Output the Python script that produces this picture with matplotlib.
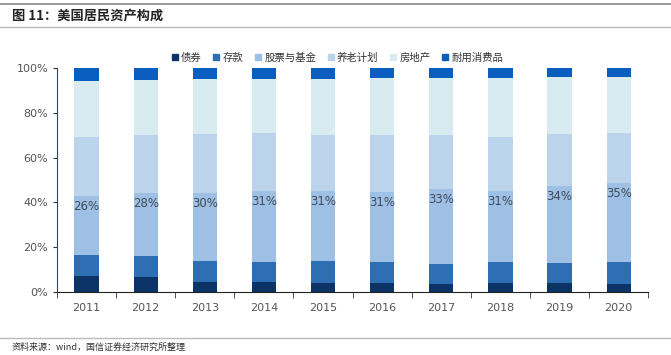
import matplotlib
matplotlib.use('Agg')
import matplotlib.pyplot as plt
from matplotlib.lines import Line2D
import numpy as np

plt.rcParams['font.family'] = ['Noto Sans CJK SC', 'DejaVu Sans']

# ─── 数据 ────────────────────────────────────────────────────────────────
years     = ['2011', '2012', '2013', '2014', '2015', '2016', '2017', '2018', '2019', '2020']
bonds     = [7.0, 6.5, 4.6, 4.6, 4.2, 4.0, 3.7, 4.2, 4.2, 3.4]
deposits  = [9.5, 9.6, 9.2, 8.9, 9.6, 9.5, 8.9, 9.3, 8.7, 9.8]
stocks    = [26.3, 28.2, 30.4, 31.4, 31.1, 31.3, 33.2, 31.4, 34.3, 35.4]
pension   = [26.4, 25.9, 26.5, 26.1, 25.3, 25.1, 24.4, 24.1, 23.3, 22.5]
estate    = [25.1, 24.4, 24.4, 24.2, 25.0, 25.5, 25.3, 26.5, 25.5, 24.9]
durables  = [5.7, 5.4, 4.9, 4.8, 4.8, 4.6, 4.5, 4.5, 4.0, 4.0]

names  = ['债券', '存款', '股票与基金', '养老计划', '房地产', '耐用消费品']
series = [bonds, deposits, stocks, pension, estate, durables]
colors = ['#0B3366', '#2E6FB4', '#9DC0E4', '#BCD3EC', '#D8EBF0', '#0A5EC0']

fig = plt.figure(figsize=(6.71, 3.55), dpi=100)
ax = fig.add_axes([0.085, 0.1775, 0.881, 0.631])

x = np.arange(len(years))
bottom = np.zeros(len(years))
for vals, name, c in zip(series, names, colors):
    ax.bar(x, vals, width=0.41, bottom=bottom, color=c, label=name, zorder=3)
    bottom += np.array(vals)

# 股票与基金 labels
stock_top = np.array(bonds) + np.array(deposits) + np.array(stocks)
for xi, top, v in zip(x, stock_top, stocks):
    ax.text(xi, top - 1.8, f'{v:.0f}%', ha='center', va='top',
            fontsize=8.5, color='#404B5A', family='DejaVu Sans', zorder=4)

ax.set_xlim(-0.5, len(years) - 0.5)
ax.set_ylim(0, 100)
ax.set_yticks(np.arange(0, 101, 20))
ax.set_yticklabels([f'{t}%' for t in range(0, 101, 20)], family='DejaVu Sans')
ax.set_xticks(x)
ax.set_xticklabels(years, family='DejaVu Sans')
ax.set_xticks(np.arange(-0.5, len(years)), minor=True)
ax.tick_params(axis='x', which='major', length=0, pad=8, labelsize=8, labelcolor='#555555')
ax.tick_params(axis='x', which='minor', length=4, direction='out', color='#333333')
ax.tick_params(axis='y', length=3, direction='out', labelsize=8, labelcolor='#555555',
               color='#333333')
for s in ['top', 'right']:
    ax.spines[s].set_visible(False)
ax.spines['left'].set_color('#33475B')
ax.spines['bottom'].set_color('#222222')

handles = [Line2D([0], [0], marker='s', ls='', color=c, markersize=5) for c in colors]
fig.legend(handles, names, loc='center', bbox_to_anchor=(0.502, 0.838), ncol=6,
           frameon=False, fontsize=7.5, handletextpad=0.2, handlelength=0.8,
           columnspacing=1.0, labelcolor='#333333')

# 标题与来源
fig.add_artist(Line2D([0.0, 1.0], [0.99, 0.99], color='#888888', lw=1.2))
fig.add_artist(Line2D([0.0, 1.0], [0.925, 0.925], color='#BBBBBB', lw=1.0))
fig.text(0.018, 0.956, '图 11：美国居民资产构成', fontsize=9.5, fontweight='bold',
         ha='left', va='center', color='#222222')
fig.add_artist(Line2D([0.0, 1.0], [0.047, 0.047], color='#BBBBBB', lw=1.0))
fig.text(0.018, 0.022, '资料来源：wind，国信证券经济研究所整理', fontsize=6.5,
         ha='left', va='center', color='#333333')

fig.savefig('out.png', dpi=100, facecolor='white')
